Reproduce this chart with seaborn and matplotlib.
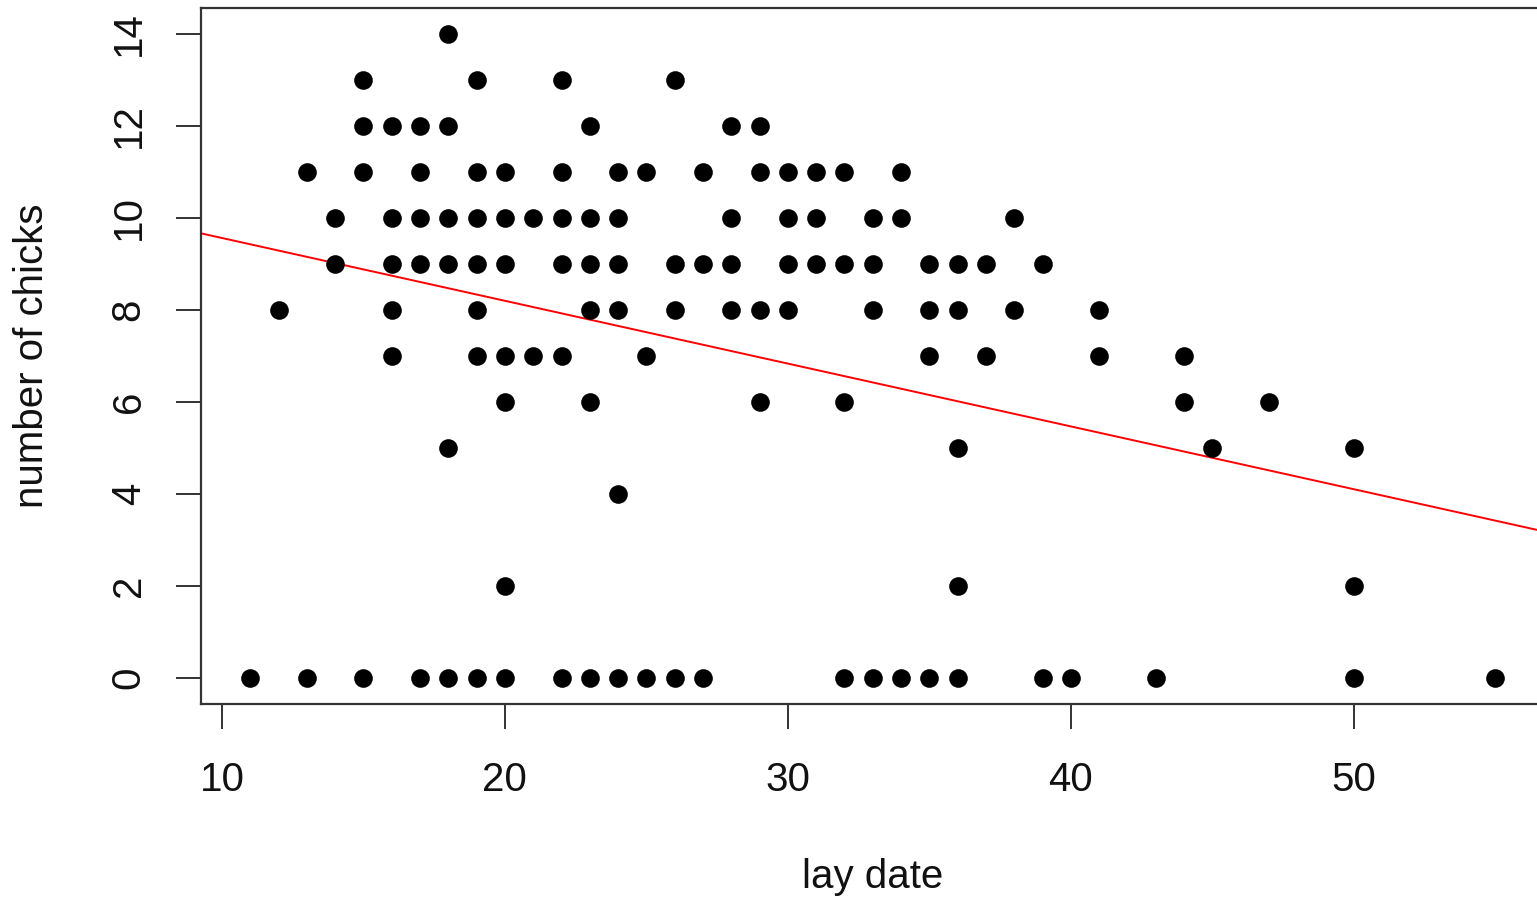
import matplotlib
matplotlib.use("Agg")
import matplotlib.pyplot as plt
import seaborn as sns
import pandas as pd

# ---- data (one list per chick-count row) ----
row14 = [18]
row13 = [15, 19, 22, 26]
row12 = [15, 16, 17, 18, 23, 28, 29]
row11 = [13, 15, 17, 19, 20, 22, 24, 25, 27, 29, 30, 31, 32, 34]
row10 = [14, 16, 17, 18, 19, 20, 21, 22, 23, 24, 28, 30, 31, 33, 34, 38]
row9 = [14, 16, 17, 18, 19, 20, 22, 23, 24, 26, 27, 28, 30, 31, 32, 33, 35, 36, 37, 39]
row8 = [12, 16, 19, 23, 24, 26, 28, 29, 30, 33, 35, 36, 38, 41]
row7 = [16, 19, 20, 21, 22, 25, 35, 37, 41, 44]
row6 = [20, 23, 29, 32, 44, 47]
row5 = [18, 36, 45, 50]
row4 = [24]
row2 = [20, 36, 50]
row0 = [11, 13, 15, 17, 18, 19, 20, 22, 23, 24, 25, 26, 27, 32, 33, 34, 35, 36,
        39, 40, 43, 50, 55]

rows = {14: row14, 13: row13, 12: row12, 11: row11, 10: row10, 9: row9,
        8: row8, 7: row7, 6: row6, 5: row5, 4: row4, 2: row2, 0: row0}

# fitted regression line
fit_intercept = 10.93
fit_slope = -0.1365

x_ticks = [10, 20, 30, 40, 50]
y_ticks = [0, 2, 4, 6, 8, 10, 12, 14]

lay_date = []
chicks = []
for n, dates in rows.items():
    lay_date.extend(dates)
    chicks.extend([n] * len(dates))
df = pd.DataFrame({"lay_date": lay_date, "chicks": chicks})

# ---- plot ----
sns.set_style("white")
plt.rcParams['font.family'] = ['Liberation Sans', 'DejaVu Sans']

W, H = 1537, 897
fig = plt.figure(figsize=(W / 100, H / 100), dpi=100)
left, right, top, bottom = 200.5, 1545.0, 8.2, 703.8
ax = fig.add_axes([left / W, 1 - bottom / H, (right - left) / W, (bottom - top) / H])

sns.scatterplot(data=df, x="lay_date", y="chicks", ax=ax, color="black",
                s=180, linewidth=0, legend=False, zorder=3)
ax.axline((0, fit_intercept), slope=fit_slope, color="red", lw=1.4, zorder=2)

ax.set_xlim(9.24, 56.76)
ax.set_ylim(-0.56, 14.56)
ax.set_xticks(x_ticks)
ax.set_yticks(y_ticks)
ax.tick_params(axis='both', direction='out', length=18, width=1.3,
               bottom=True, left=True, top=False, right=False,
               color='#222222', labelsize=29, labelcolor='#111111')
ax.tick_params(axis='x', pad=23)
ax.tick_params(axis='y', pad=20, labelrotation=90)
for lbl in ax.get_yticklabels():
    lbl.set_va('center')

for sp in ax.spines.values():
    sp.set_visible(True)
    sp.set_color('#333333')
    sp.set_linewidth(1.6)

ax.set_xlabel("lay date", fontsize=29, color='#111111')
ax.set_ylabel("number of chicks", fontsize=29, color='#111111')
ax.xaxis.set_label_coords(0.5, (bottom - 877) / (bottom - top))
ax.xaxis.label.set_va('center')
ax.yaxis.set_label_coords((32 - left) / (right - left), 0.5)
ax.yaxis.label.set_va('center')

fig.savefig("out.png", dpi=100, facecolor="white")
